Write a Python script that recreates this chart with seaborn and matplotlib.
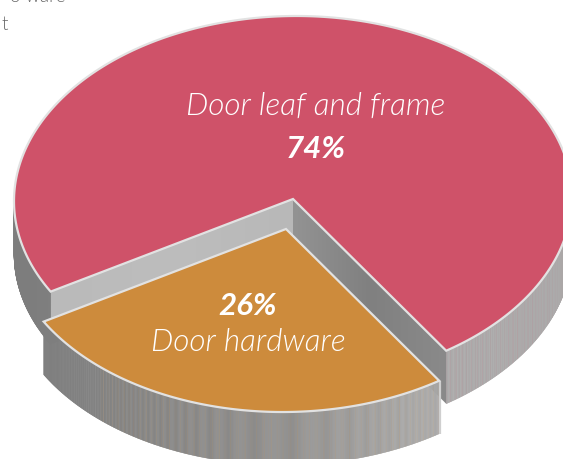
import numpy as np
import matplotlib
matplotlib.use("Agg")
import matplotlib.pyplot as plt
import seaborn as sns
from matplotlib import font_manager as fm
from matplotlib.collections import PolyCollection
from matplotlib.patches import Polygon

# Cost shares of a door set
categories = ["Door leaf and frame", "Door hardware"]
shares = [74, 26]
slice_colors = ["#CF5269", "#CD8B3C"]

sns.set_theme(style="white")
plt.rcParams["font.family"] = ["Lato", "DejaVu Sans"]


def lato(face, **fallback):
    # Pick a Lato face by file name, since weight matching skips past Light
    for path in fm.findSystemFonts():
        if path.endswith(f"Lato-{face}.ttf"):
            return fm.FontProperties(fname=path)
    return fm.FontProperties(family="Lato", **fallback)


light_italic = lato("LightItalic", style="italic")
bold_italic = lato("BoldItalic", style="italic", weight="bold")
light_upright = lato("Light")

fig = plt.figure(figsize=(5.63, 4.60), dpi=100)
ax = fig.add_axes([0, 0, 1, 1])
ax.set_xlim(0, 563)
ax.set_ylim(460, 0)
ax.axis("off")

# Projected pie: a slightly tilted ellipse with a vertical extrusion
RX, RY = 279.0, 183.0
TILT = -0.008
DEPTH = 53.0
EDGE = "#E2E2E2"
main_centre = np.array([293.0, 200.0])
exploded_centre = np.array([286.0, 230.0])
first_angle = 56.7

# Wall shading runs from dark on the left to lighter on the right
wall_ramp = sns.blend_palette(["#7C7C7C", "#828282", "#8D8D8D", "#A8A8A8", "#ABABAB"], 564)
# Fine vertical streaks on the extruded wall
streaks = [0, .10, 0, 0, .03, 0, 0, .14, 0, 0, 0, .06, 0, .11, 0, 0, .02, 0, 0, .18, 0, 0, .07, 0, 0, 0, .12]


def arc(centre, start, stop, n=400):
    t = np.radians(np.linspace(start, stop, n))
    dx = RX * np.cos(t)
    return np.column_stack([centre[0] + dx, centre[1] + RY * np.sin(t) + TILT * dx])


def outer_wall(centre, start, stop, tint, streak_from, z):
    pts = arc(centre, start, stop, int(abs(stop - start) * 5))
    tint_rgb = np.array(matplotlib.colors.to_rgb(tint))
    quads, colors = [], []
    for i in range(len(pts) - 1):
        a, b = pts[i], pts[i + 1]
        quads.append([a, b, b + [0, DEPTH], a + [0, DEPTH]])
        base = np.array(wall_ramp[int(np.clip(a[0], 0, 563))])
        w = streaks[i % len(streaks)] if a[0] > streak_from else 0
        colors.append(base * (1 - w) + tint_rgb * w)
    ax.add_collection(PolyCollection(quads, facecolors=colors, edgecolors=colors,
                                     linewidths=0.3, zorder=z))


def cut_wall(p, q, shades, z):
    # Flat wall along a radial cut, shaded along its length
    corners = np.array([p, q, q + [0, DEPTH], p + [0, DEPTH]])
    ramp = np.array(sns.blend_palette(shades, 200))[None, :, :]
    if q[0] < p[0]:
        ramp = ramp[:, ::-1, :]
    lo, hi = min(p[0], q[0]), max(p[0], q[0])
    img = ax.imshow(ramp, extent=[lo, hi, corners[:, 1].max(), corners[:, 1].min()],
                    aspect="auto", zorder=z, interpolation="bilinear")
    img.set_clip_path(Polygon(corners, closed=True, transform=ax.transData))
    ax.set_xlim(0, 563)
    ax.set_ylim(460, 0)


def top_face(centre, start, stop, color, z):
    rim = arc(centre, start, stop)
    outline = np.vstack([centre, rim])
    ax.add_patch(Polygon(outline, closed=True, facecolor=color, edgecolor=EDGE,
                         linewidth=1.6, joinstyle="miter", zorder=z))


sweep = [s / sum(shares) * 360 for s in shares]
hw_start, hw_stop = first_angle, first_angle + sweep[1]
leaf_start, leaf_stop = hw_stop, first_angle + 360

# Door leaf and frame: walls first, then the top face
leaf_left = arc(main_centre, leaf_start, leaf_start, 1)[0]
leaf_right = arc(main_centre, leaf_stop, leaf_stop, 1)[0]
outer_wall(main_centre, leaf_start, 180, slice_colors[0], 1000, 2)
outer_wall(main_centre, 360, leaf_stop, slice_colors[0], 300, 2)
cut_wall(main_centre, leaf_left, ["#B8B8B8", "#BDBDBD", "#BABABA"], 3)
cut_wall(main_centre, leaf_right, ["#939393", "#808080", "#8A8A8A"], 3)
top_face(main_centre, leaf_start, leaf_stop, slice_colors[0], 4)

# Door hardware: exploded towards the viewer
outer_wall(exploded_centre, hw_start, hw_stop, slice_colors[1], 100, 5)
hw_right = arc(exploded_centre, hw_start, hw_start, 1)[0]
ax.plot([hw_right[0] + 1, hw_right[0] + 1], [hw_right[1], hw_right[1] + DEPTH],
        color="#CFCFCF", lw=1.6, zorder=5, solid_capstyle="butt")
top_face(exploded_centre, hw_start, hw_stop, slice_colors[1], 6)

# Slice labels
centred = dict(color="white", ha="center", va="center", zorder=8)
ax.text(315.5, 106.5, categories[0], fontproperties=light_italic, fontsize=22.7, **centred)
ax.text(315.5, 149, f"{shares[0]}%", fontproperties=bold_italic, fontsize=22.5, **centred)
ax.text(248, 306, f"{shares[1]}%", fontproperties=bold_italic, fontsize=22.5, **centred)
ax.text(248, 343, categories[1], fontproperties=light_italic, fontsize=22.7, **centred)

# Running text above the chart, cut by the canvas edge
ax.text(65, 2, "o ware", color="#666666", fontproperties=light_upright, fontsize=13.5,
        ha="right", va="baseline", zorder=8)
ax.text(1, 30, "t", color="#666666", fontproperties=light_upright, fontsize=13.5,
        ha="left", va="baseline", zorder=8)

fig.savefig("out.png", dpi=100, facecolor="white")
